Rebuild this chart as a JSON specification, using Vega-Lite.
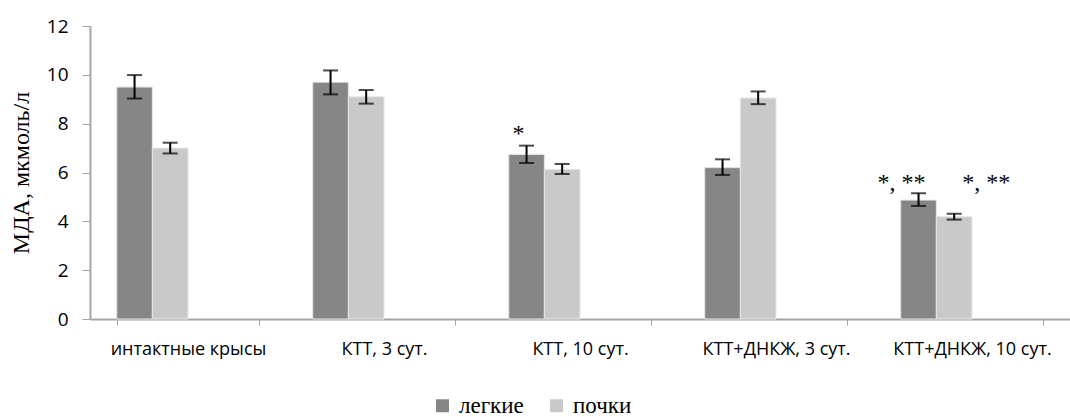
{
  "$schema": "https://vega.github.io/schema/vega-lite/v6.json",
  "width": 980,
  "height": 293,
  "autosize": {"type": "none"},
  "padding": {"left": 90, "top": 26, "right": 0, "bottom": 98},
  "background": "white",
  "config": {
    "view": {"stroke": null},
    "legend": {"labelFont": "Liberation Serif", "labelFontSize": 23, "labelColor": "black", "padding": 0}
  },
  "data": {
    "values": [
      {"group": "интактные крысы", "organ": "легкие", "value": 9.5, "lo": 9.03, "hi": 9.99, "note": ""},
      {"group": "интактные крысы", "organ": "почки", "value": 7.0, "lo": 6.78, "hi": 7.22, "note": ""},
      {"group": "КТТ, 3 сут.", "organ": "легкие", "value": 9.7, "lo": 9.2, "hi": 10.18, "note": ""},
      {"group": "КТТ, 3 сут.", "organ": "почки", "value": 9.1, "lo": 8.82, "hi": 9.38, "note": ""},
      {"group": "КТТ, 10 сут.", "organ": "легкие", "value": 6.74, "lo": 6.39, "hi": 7.1, "note": "*"},
      {"group": "КТТ, 10 сут.", "organ": "почки", "value": 6.13, "lo": 5.94, "hi": 6.35, "note": ""},
      {"group": "КТТ+ДНКЖ, 3 сут.", "organ": "легкие", "value": 6.2, "lo": 5.9, "hi": 6.54, "note": ""},
      {"group": "КТТ+ДНКЖ, 3 сут.", "organ": "почки", "value": 9.05, "lo": 8.8, "hi": 9.32, "note": ""},
      {"group": "КТТ+ДНКЖ, 10 сут.", "organ": "легкие", "value": 4.87, "lo": 4.63, "hi": 5.15, "note": "*, **"},
      {"group": "КТТ+ДНКЖ, 10 сут.", "organ": "почки", "value": 4.19, "lo": 4.07, "hi": 4.31, "note": "*, **"}
    ]
  },
  "encoding": {
    "x": {
      "field": "group",
      "type": "nominal",
      "sort": null,
      "scale": {"paddingInner": 0.2727, "paddingOuter": 0.1364},
      "axis": {
        "title": null,
        "labelAngle": 0,
        "labelFont": "Open Sans",
        "labelFontSize": 18,
        "labelColor": "black",
        "labelPadding": 15,
        "tickBand": "extent",
        "tickSize": 6,
        "tickColor": "#a6a6a6",
        "domainColor": "#a6a6a6",
        "domainWidth": 2,
        "labelLimit": 300
      }
    },
    "xOffset": {
      "field": "organ",
      "type": "nominal",
      "scale": {"domain": ["легкие", "почки", "_c", "_d"], "paddingInner": 0, "paddingOuter": 0}
    }
  },
  "layer": [
    {
      "mark": {"type": "bar", "stroke": "#e6e6e6", "strokeWidth": 1},
      "encoding": {
        "y": {
          "field": "value",
          "type": "quantitative",
          "scale": {"domain": [0, 12]},
          "axis": {
            "values": [0, 2, 4, 6, 8, 10, 12],
            "grid": false,
            "title": "МДА, мкмоль/л",
            "titleFont": "Liberation Serif",
            "titleFontSize": 24,
            "titleFontWeight": "normal",
            "titleColor": "black",
            "titlePadding": 13,
            "labelFont": "Open Sans",
            "labelFontSize": 19,
            "labelColor": "black",
            "labelPadding": 14,
            "tickSize": 8,
            "tickColor": "#a6a6a6",
            "domainColor": "#a6a6a6",
            "domainWidth": 2
          }
        },
        "color": {
          "field": "organ",
          "type": "nominal",
          "scale": {"domain": ["легкие", "почки"], "range": ["#868686", "#c9c9c9"]},
          "legend": {
            "title": null,
            "orient": "none",
            "direction": "horizontal",
            "legendX": 341,
            "legendY": 368,
            "symbolType": "square",
            "symbolSize": 169,
            "symbolStrokeWidth": 0,
            "labelFont": "Liberation Serif",
            "labelFontSize": 23,
            "labelColor": "black",
            "labelOffset": 5,
            "columnPadding": 21,
            "labelLimit": 200
          }
        }
      }
    },
    {
      "mark": {"type": "rule", "color": "black", "strokeWidth": 2},
      "encoding": {
        "y": {"field": "lo", "type": "quantitative"},
        "y2": {"field": "hi"}
      }
    },
    {
      "mark": {"type": "tick", "color": "black", "thickness": 2, "size": 15},
      "encoding": {"y": {"field": "lo", "type": "quantitative"}}
    },
    {
      "mark": {"type": "tick", "color": "black", "thickness": 2, "size": 15},
      "encoding": {"y": {"field": "hi", "type": "quantitative"}}
    },
    {
      "transform": [{"filter": "datum.group === 'КТТ, 10 сут.'"}],
      "mark": {"type": "text", "font": "Liberation Serif", "fontSize": 24, "baseline": "alphabetic", "dx": -8, "color": "black"},
      "encoding": {
        "y": {"datum": 7.29, "type": "quantitative"},
        "text": {"field": "note"}
      }
    },
    {
      "transform": [{"filter": "datum.group === 'КТТ+ДНКЖ, 10 сут.' && datum.organ === 'легкие'"}],
      "mark": {"type": "text", "font": "Liberation Serif", "fontSize": 24, "baseline": "alphabetic", "dx": -17, "color": "black"},
      "encoding": {
        "y": {"datum": 5.28, "type": "quantitative"},
        "text": {"field": "note"}
      }
    },
    {
      "transform": [{"filter": "datum.group === 'КТТ+ДНКЖ, 10 сут.' && datum.organ === 'почки'"}],
      "mark": {"type": "text", "font": "Liberation Serif", "fontSize": 24, "baseline": "alphabetic", "dx": 32, "color": "black"},
      "encoding": {
        "y": {"datum": 5.28, "type": "quantitative"},
        "text": {"field": "note"}
      }
    }
  ]
}
